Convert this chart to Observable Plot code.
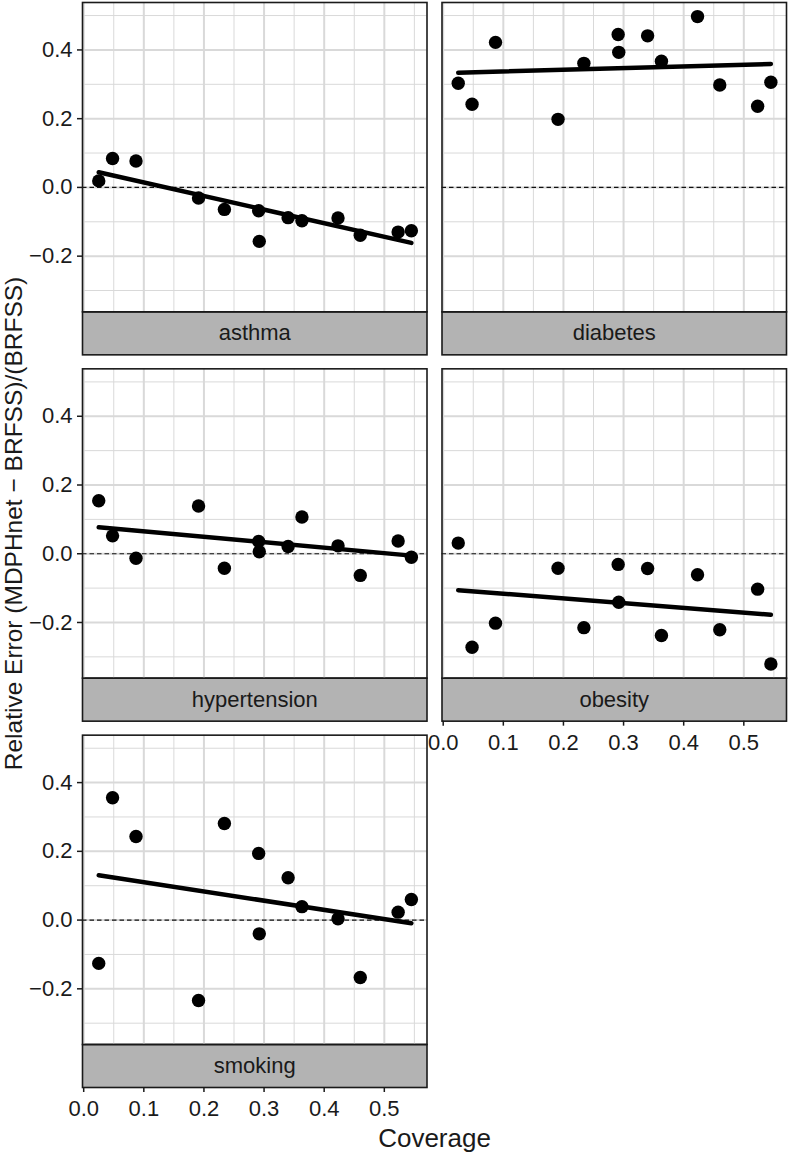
<!DOCTYPE html>
<html>
<head>
<meta charset="utf-8">
<script src="https://cdn.jsdelivr.net/npm/d3@7"></script>
<script src="https://cdn.jsdelivr.net/npm/@observablehq/plot@0.6"></script>
<style>
  body { margin: 0; background: #fff; }
  #chart svg { display: block; }
</style>
</head>
<body>
<div id="chart"></div>
<script>
// ---- Data ----
const coverage = [0.025, 0.048, 0.087, 0.191, 0.234, 0.291, 0.292, 0.340, 0.363, 0.423, 0.460, 0.523, 0.545];
const asthma       = [0.019, 0.084, 0.077, -0.031, -0.064, -0.068, -0.157, -0.088, -0.097, -0.089, -0.139, -0.130, -0.126];
const diabetes     = [0.303, 0.242, 0.422, 0.198, 0.361, 0.445, 0.393, 0.441, 0.367, 0.497, 0.298, 0.236, 0.306];
const hypertension = [0.154, 0.052, -0.013, 0.139, -0.042, 0.036, 0.006, 0.021, 0.107, 0.023, -0.063, 0.037, -0.010];
const obesity      = [0.031, -0.272, -0.202, -0.042, -0.215, -0.031, -0.141, -0.043, -0.238, -0.061, -0.221, -0.103, -0.321];
const smoking      = [-0.126, 0.356, 0.243, -0.234, 0.281, 0.194, -0.040, 0.123, 0.039, 0.004, -0.167, 0.023, 0.060];

const panelNames = ["asthma", "diabetes", "hypertension", "obesity", "smoking"];
const seriesValues = [asthma, diabetes, hypertension, obesity, smoking];

const xTicks = [0.0, 0.1, 0.2, 0.3, 0.4, 0.5];
const xMinor = [0.05, 0.15, 0.25, 0.35, 0.45, 0.55];
const yTicks = [-0.2, 0.0, 0.2, 0.4];
const yMinor = [-0.3, -0.1, 0.1, 0.3, 0.5];

const xTitle = "Coverage";
const yTitle = "Relative Error (MDPHnet \u2212 BRFSS)/(BRFSS)";

// ---- Build tables ----
const ncol = 2;
const panels = panelNames.map((name, i) => ({name, col: i % ncol, row: Math.floor(i / ncol)}));
const rows = panels.flatMap((p, i) =>
  coverage.map((c, j) => ({name: p.name, col: p.col, row: p.row, coverage: c, error: seriesValues[i][j]}))
);

// ---- Layout ----
const W = 789, H = 1154;
const mL = 82, mR = 3, mT = 2, mB = 110;
const stripH = 43, rowGap = 57, colGap = 15;
const nrow = 3;
const bwY = ((H - mT - mB) - (nrow - 1) * rowGap) / nrow;
const pY = rowGap / (bwY + rowGap);
const bwX = ((W - mL - mR) - (ncol - 1) * colGap) / ncol;
const pX = colGap / (bwX + colGap);

const ink = "#1a1a1a";
const fmt = d3.format(".1f");

const chart = Plot.plot({
  width: W,
  height: H,
  marginLeft: mL,
  marginRight: mR,
  marginTop: mT,
  marginBottom: mB,
  style: {fontFamily: "'Liberation Sans', Arial, Helvetica, sans-serif", color: ink, background: "#fff"},
  x: {domain: [-0.002, 0.571]},
  y: {domain: [-0.362, 0.538]},
  fx: {domain: [0, 1], paddingInner: pX, paddingOuter: 0, round: false, axis: null},
  fy: {domain: [0, 1, 2], paddingInner: pY, paddingOuter: 0, round: false, axis: null},
  marks: [
    // strip background
    Plot.frame({fill: "#b3b3b3", stroke: ink, strokeWidth: 1.6, insetTop: bwY, insetBottom: -stripH}),
    // grid
    Plot.gridX(xMinor, {stroke: "#d9d9d9", strokeOpacity: 1, strokeWidth: 1}),
    Plot.gridY(yMinor, {stroke: "#d9d9d9", strokeOpacity: 1, strokeWidth: 1}),
    Plot.gridX(xTicks, {stroke: "#d9d9d9", strokeOpacity: 1, strokeWidth: 2}),
    Plot.gridY(yTicks, {stroke: "#d9d9d9", strokeOpacity: 1, strokeWidth: 2}),
    Plot.ruleY([0], {stroke: "#111", strokeWidth: 1.1, strokeDasharray: "4.5,3"}),
    Plot.dot(rows, {x: "coverage", y: "error", fx: "col", fy: "row", r: 6.7, fill: "#000", stroke: null}),
    Plot.linearRegressionY(rows, {x: "coverage", y: "error", fx: "col", fy: "row", ci: 0, stroke: "#000", strokeWidth: 4.5}),
    Plot.frame({stroke: ink, strokeWidth: 1.6}),
    // strip labels
    Plot.text(panels, {fx: "col", fy: "row", text: "name", frameAnchor: "bottom", dy: stripH / 2, lineAnchor: "middle", fontSize: 22, fill: ink}),
    // axes
    Plot.axisY(yTicks, {anchor: "left", tickSize: 5, tickPadding: 5, fontSize: 22, tickFormat: fmt, label: null, stroke: ink, strokeWidth: 1.5}),
    Plot.axisX(xTicks, {anchor: "bottom", facetAnchor: "bottom-empty", dy: stripH, tickSize: 5, tickPadding: 8, fontSize: 22, tickFormat: fmt, label: null, stroke: ink, strokeWidth: 1.5}),
    // titles
    Plot.text([yTitle], {facet: "super", frameAnchor: "left", dx: -68.5, rotate: -90, textAnchor: "middle", lineAnchor: "middle", fontSize: 24.5, fill: ink}),
    Plot.text([xTitle], {facet: "super", frameAnchor: "bottom", dy: 94, textAnchor: "middle", lineAnchor: "middle", fontSize: 26, fill: ink})
  ]
});

document.getElementById("chart").appendChild(chart);
</script>
</body>
</html>
